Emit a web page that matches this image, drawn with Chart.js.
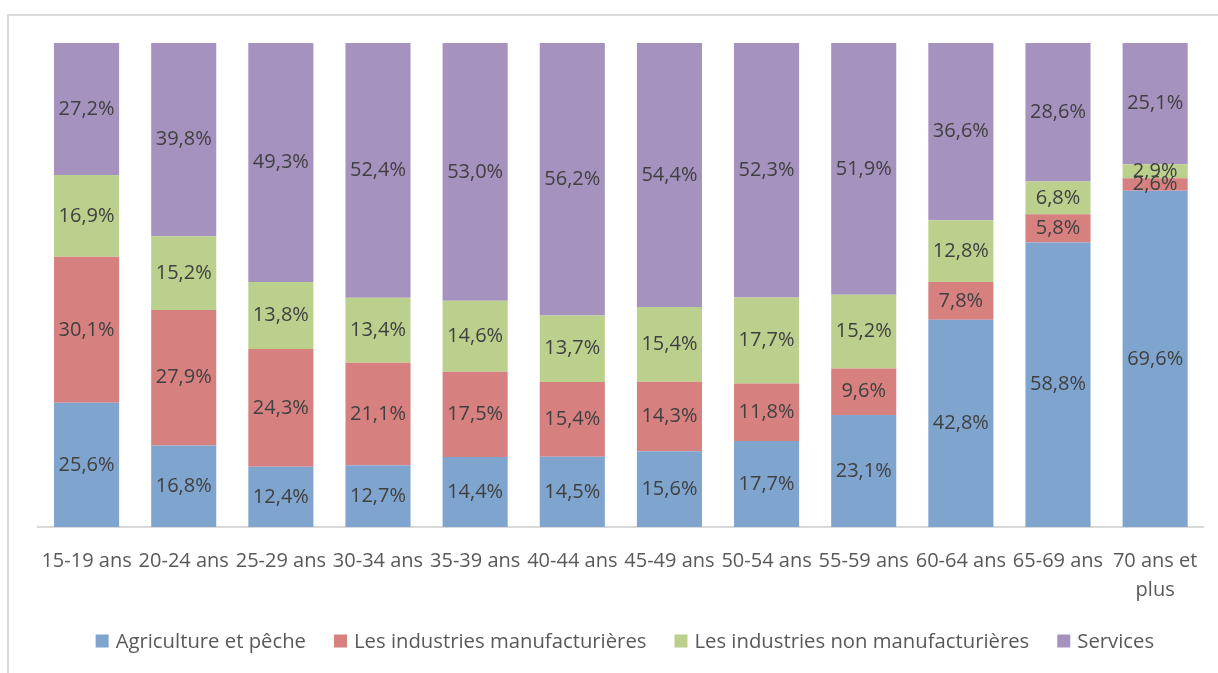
<!DOCTYPE html>
<html>
<head>
<meta charset="utf-8">
<script src="https://cdn.jsdelivr.net/npm/chart.js@4/dist/chart.umd.min.js"></script>
<style>
  html, body { margin: 0; padding: 0; background: #fff; }
  #wrap { position: relative; width: 1218px; height: 673px; overflow: hidden; }
  #frame { position: absolute; left: 7px; top: 14px; width: 1230px; height: 700px;
           border-left: 2px solid #d9d9d9; border-top: 2px solid #d9d9d9; box-sizing: border-box; }
  #canva { position: absolute; left: 0; top: 0; }
</style>
</head>
<body>
<div id="wrap">
  <div id="frame"></div>
  <canvas id="canva" width="1218" height="673"></canvas>
</div>
<script>
const categories = ["15-19 ans", "20-24 ans", "25-29 ans", "30-34 ans", "35-39 ans", "40-44 ans",
  "45-49 ans", "50-54 ans", "55-59 ans", "60-64 ans", "65-69 ans", ["70 ans et", "plus"]];

const agriculture = [25.6, 16.8, 12.4, 12.7, 14.4, 14.5, 15.6, 17.7, 23.1, 42.8, 58.8, 69.6];
const manufacturieres = [30.1, 27.9, 24.3, 21.1, 17.5, 15.4, 14.3, 11.8, 9.6, 7.8, 5.8, 2.6];
const nonManufacturieres = [16.9, 15.2, 13.8, 13.4, 14.6, 13.7, 15.4, 17.7, 15.2, 12.8, 6.8, 2.9];
const services = [27.2, 39.8, 49.3, 52.4, 53.0, 56.2, 54.4, 52.3, 51.9, 36.6, 28.6, 25.1];

const seriesNames = ["Agriculture et pêche", "Les industries manufacturières",
  "Les industries non manufacturières", "Services"];
const seriesValues = [agriculture, manufacturieres, nonManufacturieres, services];
const seriesColors = ["#7fa5cf", "#d68180", "#bbd08d", "#a592bf"];

const FONT = "'Open Sans', sans-serif";

// 100% stacked: each bar is scaled to its own total
const totals = categories.map((_, i) => seriesValues.reduce((s, v) => s + v[i], 0));

const labelPlugin = {
  id: "segmentLabels",
  afterDatasetsDraw(chart) {
    const c = chart.ctx;
    c.save();
    c.font = "20px " + FONT;
    c.fillStyle = "#404040";
    c.textAlign = "center";
    c.textBaseline = "middle";
    chart.data.datasets.forEach((ds, di) => {
      const meta = chart.getDatasetMeta(di);
      meta.data.forEach((bar, i) => {
        const y = (bar.y + bar.base) / 2;
        c.fillText(ds.raw[i].toFixed(1).replace(".", ",") + "%", bar.x, y);
      });
    });
    c.restore();
  }
};

// legend drawn by hand so its spacing can follow the Excel layout
const legendPlugin = {
  id: "bottomLegend",
  afterDraw(chart) {
    const c = chart.ctx;
    const box = 13, gapText = 7, gapItem = 28, cy = 641;
    c.save();
    c.font = "20.3px " + FONT;
    c.textBaseline = "middle";
    const widths = chart.data.datasets.map(ds => box + gapText + c.measureText(ds.label).width);
    const total = widths.reduce((a, b) => a + b, 0) + gapItem * (widths.length - 1);
    const mid = (chart.chartArea.left + chart.chartArea.right) / 2 + 4;
    let x = mid - total / 2;
    chart.data.datasets.forEach((ds, i) => {
      c.fillStyle = ds.backgroundColor;
      c.fillRect(x, cy - box / 2, box, box);
      c.fillStyle = "#595959";
      c.fillText(ds.label, x + box + gapText, cy + 1);
      x += widths[i] + gapItem;
    });
    c.restore();
  }
};

const ctx = document.getElementById("canva").getContext("2d");
new Chart(ctx, {
  type: "bar",
  data: {
    labels: categories,
    datasets: seriesNames.map((name, k) => ({
      label: name,
      raw: seriesValues[k],
      data: seriesValues[k].map((v, i) => v / totals[i] * 100),
      backgroundColor: seriesColors[k],
      borderWidth: 0,
      categoryPercentage: 1,
      barPercentage: 0.67,
    })),
  },
  options: {
    responsive: false,
    animation: false,
    layout: { padding: { left: 38, right: 14, top: 43, bottom: 48 } },
    plugins: {
      legend: { display: false },
      tooltip: { enabled: false },
    },
    scales: {
      x: {
        stacked: true,
        grid: { display: false, drawTicks: false },
        border: { color: "#d9d9d9", width: 2 },
        ticks: {
          color: "#595959",
          padding: 20,
          maxRotation: 0,
          autoSkip: false,
          font: { family: FONT, size: 20, lineHeight: 1.45 },
        },
      },
      y: {
        stacked: true,
        display: false,
        min: 0,
        max: 100,
      },
    },
  },
  plugins: [labelPlugin, legendPlugin],
});
</script>
</body>
</html>
